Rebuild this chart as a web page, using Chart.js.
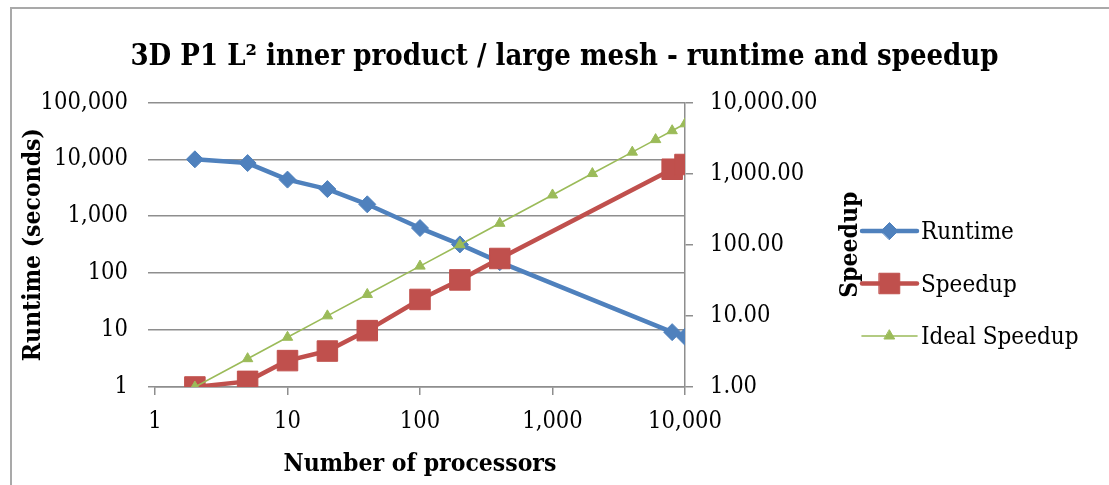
<!DOCTYPE html>
<html>
<head>
<meta charset="utf-8">
<script src="https://cdn.jsdelivr.net/npm/chart.js@4/dist/chart.umd.min.js"></script>
<style>
  html, body { margin: 0; padding: 0; background: #ffffff; overflow: hidden; }
  #c { display: block; }
</style>
</head>
<body>
<canvas id="c" width="1109" height="485"></canvas>
<script>
// Measured runs: processor counts, wall-clock runtime and speedup relative to 2 processors
const processors = [2, 5, 10, 20, 40, 100, 200, 400, 8000, 10000];
const runtimeSeconds = [10000, 8600, 4400, 3000, 1620, 620, 320, 156, 9.2, 7.6];
const speedup = [1.0, 1.2, 2.35, 3.2, 6.2, 17, 32, 64, 1150, 1340];

// Ideal (linear) speedup reference
const idealProcessors = [2, 5, 10, 20, 40, 100, 200, 400, 1000, 2000, 4000, 6000, 8000, 10000];
const idealSpeedup = [1, 2.5, 5, 10, 20, 50, 100, 200, 500, 1000, 2000, 3000, 4000, 5000];

// Decade ticks for each logarithmic axis
const processorTicks = [1, 10, 100, 1000, 10000];
const runtimeTicks = [1, 10, 100, 1000, 10000, 100000];
const speedupTicks = [1, 10, 100, 1000, 10000];

const FONT = "'DejaVu Serif Condensed', 'DejaVu Serif', 'Liberation Serif', serif";
const GRID = '#8e8e8e';

const fmtInt = v => Number(v).toLocaleString('en-US', { maximumFractionDigits: 0 });
const fmt2 = v => Number(v).toLocaleString('en-US', { minimumFractionDigits: 2, maximumFractionDigits: 2 });
const pairs = (xs, ys) => xs.map((x, i) => ({ x: x, y: ys[i] }));
const decadeTicks = list => scale => { scale.ticks = list.map(v => ({ value: v })); };

// Marker shapes used by the key (same geometry as Chart.js point styles)
function drawMarker(ctx, style, r, x, y, color) {
  ctx.fillStyle = color;
  ctx.strokeStyle = color;
  ctx.lineWidth = 1;
  ctx.beginPath();
  if (style === 'rectRot') {
    ctx.moveTo(x - r, y); ctx.lineTo(x, y - r); ctx.lineTo(x + r, y); ctx.lineTo(x, y + r);
  } else if (style === 'rect') {
    const s = Math.SQRT1_2 * r;
    ctx.rect(x - s, y - s, 2 * s, 2 * s);
  } else if (style === 'triangle') {
    ctx.moveTo(x, y - r);
    ctx.lineTo(x + Math.sin(2 * Math.PI / 3) * r, y + r / 2);
    ctx.lineTo(x - Math.sin(2 * Math.PI / 3) * r, y + r / 2);
  }
  ctx.closePath();
  ctx.fill();
  ctx.stroke();
}

// Outer frame of the chart object: left and top edges only
const chartFrame = {
  id: 'chartFrame',
  beforeDraw(chart, args, opts) {
    const ctx = chart.ctx;
    ctx.save();
    ctx.strokeStyle = opts.color;
    ctx.lineWidth = opts.width;
    ctx.beginPath();
    ctx.moveTo(opts.left, chart.height + 2);
    ctx.lineTo(opts.left, opts.top);
    ctx.lineTo(chart.width + 2, opts.top);
    ctx.stroke();
    ctx.restore();
  }
};

// Secondary axis title (reads bottom-to-top) and the series key on the right
const seriesKey = {
  id: 'seriesKey',
  afterDraw(chart, args, opts) {
    const ctx = chart.ctx;
    const area = chart.chartArea;

    ctx.save();
    ctx.translate(opts.axisTitleX, (area.top + area.bottom) / 2);
    ctx.rotate(-Math.PI / 2);
    ctx.fillStyle = '#000';
    ctx.font = 'bold ' + opts.axisTitleSize + 'px ' + FONT;
    ctx.textAlign = 'center';
    ctx.textBaseline = 'middle';
    ctx.fillText(opts.axisTitle, 0, 0);
    ctx.restore();

    chart.data.datasets.forEach((ds, i) => {
      const y = opts.top + i * opts.rowGap;
      const x0 = opts.left, x1 = opts.left + opts.sampleWidth;
      ctx.save();
      ctx.strokeStyle = ds.borderColor;
      ctx.lineWidth = ds.borderWidth;
      ctx.lineCap = 'round';
      ctx.beginPath();
      ctx.moveTo(x0, y);
      ctx.lineTo(x1, y);
      ctx.stroke();
      drawMarker(ctx, ds.pointStyle, ds.pointRadius, (x0 + x1) / 2, y, ds.pointBackgroundColor);
      ctx.fillStyle = '#000';
      ctx.font = opts.fontSize + 'px ' + FONT;
      ctx.textBaseline = 'middle';
      ctx.textAlign = 'left';
      ctx.fillText(ds.label, x1 + opts.gap, y + 2);
      ctx.restore();
    });
  }
};

const tickFont = { family: FONT, size: 23.5 };
const titleFont = { family: FONT, size: 24.5, weight: 'bold', lineHeight: 1 };

new Chart(document.getElementById('c'), {
  type: 'line',
  data: {
    datasets: [
      {
        label: 'Runtime',
        data: pairs(processors, runtimeSeconds),
        yAxisID: 'y',
        borderColor: '#4F81BD',
        backgroundColor: '#4F81BD',
        borderWidth: 4.5,
        pointStyle: 'rectRot',
        pointRadius: 8.5,
        pointBackgroundColor: '#4F81BD',
        pointBorderColor: '#4F81BD',
        pointBorderWidth: 1,
        borderJoinStyle: 'round',
        borderCapStyle: 'round',
        order: 3
      },
      {
        label: 'Speedup',
        data: pairs(processors, speedup),
        yAxisID: 'y2',
        borderColor: '#C0504D',
        backgroundColor: '#C0504D',
        borderWidth: 4.5,
        pointStyle: 'rect',
        pointRadius: 14.5,
        pointBackgroundColor: '#C0504D',
        pointBorderColor: '#C0504D',
        pointBorderWidth: 1,
        borderJoinStyle: 'round',
        borderCapStyle: 'round',
        order: 2
      },
      {
        label: 'Ideal Speedup',
        data: pairs(idealProcessors, idealSpeedup),
        yAxisID: 'y2',
        borderColor: '#9BBB59',
        backgroundColor: '#9BBB59',
        borderWidth: 1.6,
        pointStyle: 'triangle',
        pointRadius: 6,
        pointBackgroundColor: '#9BBB59',
        pointBorderColor: '#9BBB59',
        pointBorderWidth: 1,
        order: 1
      }
    ]
  },
  options: {
    responsive: false,
    animation: false,
    devicePixelRatio: 1,
    layout: { padding: { left: 20, top: 0, right: 0, bottom: 6 } },
    plugins: {
      legend: { display: false },
      tooltip: { enabled: false },
      title: {
        display: true,
        text: '3D P1 L\u00B2 inner product / large mesh - runtime and speedup',
        color: '#000',
        font: { family: FONT, size: 29, weight: 'bold', lineHeight: 1.2 },
        padding: { top: 40, bottom: 27.6 }
      },
      chartFrame: { left: 11, top: 8, width: 2, color: '#a9a9a9' },
      seriesKey: {
        left: 862, top: 231, rowGap: 52.5, sampleWidth: 55, gap: 4, fontSize: 24,
        axisTitle: 'Speedup', axisTitleX: 851, axisTitleSize: 24.5
      }
    },
    scales: {
      x: {
        type: 'logarithmic',
        position: 'bottom',
        min: 1,
        max: 10000,
        afterBuildTicks: decadeTicks(processorTicks),
        afterFit: s => { s.height = 92; },
        grid: { drawOnChartArea: false, drawTicks: true, tickLength: 8, color: GRID, lineWidth: 1.5 },
        border: { display: true, color: GRID, width: 1.5 },
        ticks: { font: tickFont, color: '#000', padding: 13, maxRotation: 0, autoSkip: false, callback: v => fmtInt(v) },
        title: { display: true, text: 'Number of processors', color: '#000', font: titleFont, padding: { top: 0, bottom: 2 } }
      },
      y: {
        type: 'logarithmic',
        position: 'left',
        min: 1,
        max: 100000,
        afterBuildTicks: decadeTicks(runtimeTicks),
        afterFit: s => { s.width = 135; },
        grid: { drawOnChartArea: true, drawTicks: true, tickLength: 7, color: GRID, lineWidth: 1.5 },
        border: { display: false },
        ticks: { font: tickFont, color: '#000', padding: 20, autoSkip: false, callback: v => fmtInt(v) },
        title: { display: true, text: 'Runtime (seconds)', color: '#000', font: titleFont, padding: { top: 1, bottom: 0 } }
      },
      y2: {
        type: 'logarithmic',
        position: 'right',
        min: 1,
        max: 10000,
        afterBuildTicks: decadeTicks(speedupTicks),
        afterFit: s => { s.width = 424; },
        grid: { drawOnChartArea: false, drawTicks: true, tickLength: 8, color: GRID, lineWidth: 1.5 },
        border: { display: true, color: GRID, width: 1.5 },
        ticks: { font: tickFont, color: '#000', padding: 17, autoSkip: false, callback: v => fmt2(v) },
        title: { display: false }
      }
    }
  },
  plugins: [chartFrame, seriesKey]
});
</script>
</body>
</html>
